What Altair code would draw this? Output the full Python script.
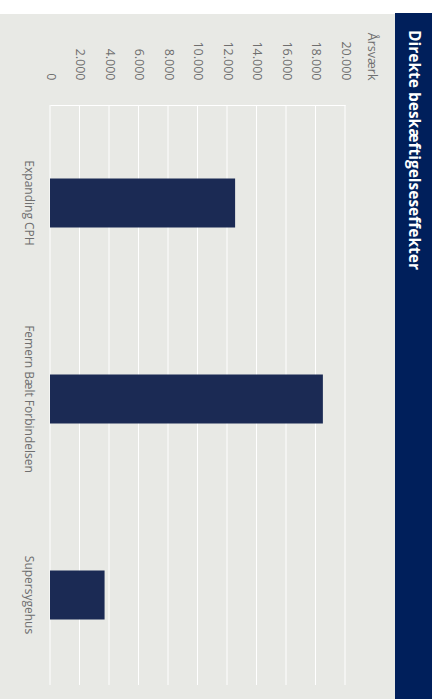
import altair as alt
import pandas as pd

# ---- data ----
CATEGORIES = ["Expanding CPH", "Femern Bælt Forbindelsen", "Supersygehus"]
VALUES = [12550, 18500, 3700]
TICKS = [0, 2000, 4000, 6000, 8000, 10000, 12000, 14000, 16000, 18000, 20000]
TITLE = "Direkte beskæftigelseseffekter"
UNIT = "Årsværk"

# ---- styling ----
BG = "#e8e9e5"
NAVY = "#001f5b"
BAR = "#1b2a54"
GREY_TXT = "#6f6f6f"
FONT = "Open Sans"

W, H = 295, 588  # plot area

bars_df = pd.DataFrame({"cat": CATEGORIES, "value": VALUES})
ticks_df = pd.DataFrame({"v": TICKS})
one = pd.DataFrame({"t": [TITLE]})

X_SCALE = alt.Scale(domain=[0, 20000], nice=False)
X_AXIS = alt.Axis(
    orient="top", values=TICKS, format=",d", grid=False,
    ticks=False, tickSize=0, domain=True, domainColor="white", domainWidth=1,
    labelAngle=90, labelAlign="right", labelBaseline="middle",
    labelPadding=25, labelFlush=False, labelOverlap=False,
    labelFont=FONT, labelFontSize=12.5, labelColor=GREY_TXT,
    title=UNIT, titleAngle=90, titleAlign="right", titleBaseline="middle",
    titleX=321, titleY=-25, titleFont=FONT, titleFontSize=12.5,
    titleFontWeight="normal", titleColor=GREY_TXT,
)

# decorative frame: white strips (top and right) and navy title banner
top_strip = alt.Chart(one).mark_rect(color="white").encode(
    x=alt.value(-50), x2=alt.value(388), y=alt.value(-105), y2=alt.value(-91)
)
right_strip = alt.Chart(one).mark_rect(color="white").encode(
    x=alt.value(382), x2=alt.value(388), y=alt.value(-105), y2=alt.value(594)
)
banner = alt.Chart(one).mark_rect(color=NAVY).encode(
    x=alt.value(345), x2=alt.value(382), y=alt.value(-92), y2=alt.value(594)
)
title = alt.Chart(one).mark_text(
    angle=90, align="left", baseline="middle", font=FONT,
    fontWeight="bold", fontSize=15.5, color="white"
).encode(x=alt.value(363.5), y=alt.value(-75), text="t:N")

grid = alt.Chart(ticks_df).mark_rule(color="white", strokeWidth=1).encode(
    x=alt.X("v:Q", title=UNIT, axis=X_AXIS, scale=X_SCALE),
    y=alt.value(0), y2=alt.value(580)
)

bars = alt.Chart(bars_df).mark_bar(color=BAR).encode(
    x=alt.X("value:Q", title=UNIT, axis=X_AXIS, scale=X_SCALE),
    y=alt.Y(
        "cat:N", sort=CATEGORIES,
        scale=alt.Scale(paddingInner=0.75, paddingOuter=0.375),
        axis=alt.Axis(
            title=None, ticks=False, tickSize=0, domain=False, grid=False,
            labelAngle=90, labelAlign="center", labelBaseline="middle",
            labelPadding=22, labelFont=FONT, labelFontSize=12,
            labelColor=GREY_TXT, labelLimit=0,
        ),
    ),
)

chart = alt.layer(top_strip, right_strip, banner, title, grid, bars).properties(
    width=W, height=H,
    autosize="none",
    padding={"left": 50, "top": 105, "right": 93, "bottom": 6},
    background=BG,
).configure(
    view={"stroke": None},
    locale={"number": {"decimal": ",", "thousands": ".", "grouping": [3],
                       "currency": ["", " kr."]}},
)

chart.save("out.html", embed_options={"renderer": "svg", "actions": False})
